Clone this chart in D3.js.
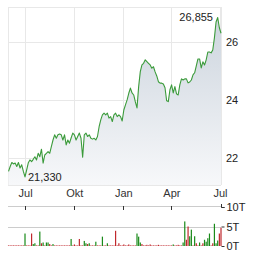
<!DOCTYPE html>
<html><head><meta charset="utf-8">
<script src="https://cdn.jsdelivr.net/npm/d3@7"></script>
<style>html,body{margin:0;padding:0;background:#fff;}svg{display:block;font-family:Arial,"Liberation Sans",sans-serif;}</style>
</head><body>
<script>
const startDate = "2024-05-31", endDate = "2025-07-03";
const prices = [21.52,21.69,21.83,21.78,21.81,21.69,21.83,21.64,21.75,21.52,
21.33,21.57,21.82,21.92,21.86,21.94,22.03,21.92,22.15,22.03,
22.29,21.81,22.09,22.15,22.21,22.15,22.38,22.61,22.79,22.67,
22.79,22.82,22.79,22.61,22.79,22.44,22.61,22.50,22.68,22.85,
22.79,22.61,22.73,22.85,22.67,22.01,22.79,22.85,22.73,22.79,
22.67,22.64,22.67,22.61,22.73,23.07,23.31,23.48,23.54,23.48,
23.54,23.37,23.42,23.25,23.48,23.54,23.42,23.48,23.42,23.27,
23.65,23.83,24.00,24.23,24.41,24.24,24.17,23.93,23.72,24.46,
24.98,25.21,25.27,25.39,25.33,25.27,25.21,25.10,25.15,24.97,
24.83,24.63,24.58,24.58,24.55,24.42,23.97,23.94,24.35,24.52,
24.24,24.46,24.21,24.17,24.52,24.73,24.69,24.73,24.73,24.59,
24.62,24.69,24.87,24.94,25.18,25.42,25.42,25.11,25.32,25.21,
25.39,25.66,25.66,25.63,25.73,26.15,26.70,26.855,26.50,26.31];
// volume (in thousands), sparse by trading point index
const volIdx = [10,14,15,16,19,20,21,23,24,25,27,38,40,43,46,47,48,49,53,57,60,65,67,70,73,78,79,80,81,84,86,91,100,103,106,107,108,109,110,111,113,114,116,118,119,120,121,122,124,125,126,127,128,129];
const volVal = [3.2,3.2,0.5,0.7,3.7,0.7,0.9,0.9,0.9,0.5,0.5,1.8,0.4,1.8,1.3,0.7,0.5,0.7,1.1,2.4,0.7,3.9,0.7,0.4,0.4,3.2,2.4,0.9,0.5,0.3,0.4,0.3,0.4,0.3,0.9,6.3,1.6,5.0,2.5,4.2,2.5,0.7,0.9,0.7,1.6,1.1,2.0,3.2,0.7,5.7,0.7,1.4,3.2,4.7];
const volCol = "grgggrgggr"+"ggrrggrggg"+"grrrrgggrr"+"rrgrggrrgg"+"grgrggggrg"+"ggrr";
const monthTicks = ["2024-07-01","2024-10-01","2025-01-01","2025-04-01","2025-07-01"];
const monthLabels = ["Jul","Okt","Jan","Apr","Jul"];
const priceTicks = [22,24,26];
const volTicks = [0,5,10];
const volTickLabels = ["0T","5T","10T"];
const hiLabel = "26,855", loLabel = "21,330";

const W=264,H=255;
const parse=d3.timeParse("%Y-%m-%d");
const t0=parse(startDate), t1=parse(endDate);
const n=prices.length;
const dates=prices.map((_,i)=>new Date(+t0+(t1-t0)*i/(n-1)));
const data=prices.map((v,i)=>({d:dates[i],v}));

const x=d3.scaleTime().domain([parse("2024-05-30"),parse("2025-07-03")]).range([8,221]);
const y=d3.scaleLinear().domain([21.05,27.22]).range([185,7]);
const yv=d3.scaleLinear().domain([0,10]).range([246,207]);

const svg=d3.select("body").append("svg").attr("width",W).attr("height",H);
const defs=svg.append("defs");
const g=defs.append("linearGradient").attr("id","fill").attr("gradientUnits","userSpaceOnUse")
 .attr("x1",0).attr("x2",0).attr("y1",20).attr("y2",185);
g.append("stop").attr("offset",0).attr("stop-color","#cdd5de");
g.append("stop").attr("offset",1).attr("stop-color","#f7f8fa");

// grid
const grid=svg.append("g").attr("stroke","#e8e8e8").attr("stroke-width",1);
grid.append("line").attr("x1",8).attr("x2",221).attr("y1",7.5).attr("y2",7.5);
grid.append("line").attr("x1",8.5).attr("x2",8.5).attr("y1",7).attr("y2",185);
grid.append("line").attr("x1",221.5).attr("x2",221.5).attr("y1",7).attr("y2",185);
grid.append("line").attr("x1",8).attr("x2",221).attr("y1",185.5).attr("y2",185.5);
monthTicks.forEach(m=>{const xx=Math.round(x(parse(m)))+0.5;
 grid.append("line").attr("x1",xx).attr("x2",xx).attr("y1",7).attr("y2",185);});
priceTicks.forEach(p=>{const yy=Math.round(y(p))+0.5;
 grid.append("line").attr("x1",8).attr("x2",221).attr("y1",yy).attr("y2",yy);});

// area + line
svg.append("path").datum(data).attr("fill","url(#fill)")
 .attr("d",d3.area().x(d=>x(d.d)).y0(185).y1(d=>y(d.v)));
svg.append("path").datum(data).attr("fill","none").attr("stroke","#3b9b3b").attr("stroke-width",1.1)
 .attr("stroke-linejoin","round").attr("d",d3.line().x(d=>x(d.d)).y(d=>y(d.v)));

// price axis labels
const axY=d3.axisRight(y).tickValues(priceTicks).tickSize(0).tickPadding(0).tickFormat(d3.format("d"));
svg.append("g").attr("transform","translate(226,0)").call(axY)
 .call(s=>{s.select(".domain").remove();s.selectAll("text").attr("font-size",11).attr("fill","#222").attr("font-family","Arial,'Liberation Sans',sans-serif");});

// hi / lo labels
svg.append("text").attr("x",213).attr("y",21).attr("text-anchor","end").attr("font-size",11).attr("fill","#222").text(hiLabel);
svg.append("text").attr("x",28).attr("y",181).attr("font-size",11).attr("fill","#222").text(loLabel);

// month labels
const axX=d3.axisBottom(x).tickValues(monthTicks.map(parse)).tickSize(0).tickPadding(0)
 .tickFormat((d,i)=>monthLabels[i]);
svg.append("g").attr("transform","translate(0,189)").call(axX)
 .call(s=>{s.select(".domain").remove();s.selectAll("text").attr("font-size",11).attr("fill","#333").attr("font-family","Arial,'Liberation Sans',sans-serif");});

// volume panel
svg.append("line").attr("x1",8).attr("x2",221).attr("y1",206.5).attr("y2",206.5).attr("stroke","#ccc");
svg.append("line").attr("x1",8).attr("x2",221).attr("y1",Math.round(yv(5))+0.5).attr("y2",Math.round(yv(5))+0.5).attr("stroke","#ccc");
monthTicks.slice(0,4).forEach(m=>{const xx=Math.round(x(parse(m)))+0.5;
 svg.append("line").attr("x1",xx).attr("x2",xx).attr("y1",206).attr("y2",210).attr("stroke","#333");});
const axV=d3.axisRight(yv).tickValues(volTicks).tickSize(3).tickPadding(2).tickFormat((d,i)=>volTickLabels[i]);
svg.append("g").attr("transform","translate(221.5,0)").call(axV)
 .call(s=>{s.select(".domain").attr("stroke","#333").attr("d","M0,204V207.5H3");s.selectAll(".tick line").attr("stroke","#333");
   s.selectAll("text").attr("font-size",11).attr("fill","#222").attr("font-family","Arial,'Liberation Sans',sans-serif");});

const vols=dates.map((d,i)=>({d,v:0.15,c:"r"}));
volIdx.forEach((k,j)=>{vols[k].v=volVal[j];vols[k].c=volCol[j];});
svg.append("g").selectAll("rect").data(vols).join("rect")
 .attr("x",d=>x(d.d)-0.6).attr("width",1.2)
 .attr("y",d=>yv(d.v)).attr("height",d=>yv(0)-yv(d.v))
 .attr("fill",d=>d.c==="g"?"#1a8a1a":"#c0282d");
</script>
</body></html>
